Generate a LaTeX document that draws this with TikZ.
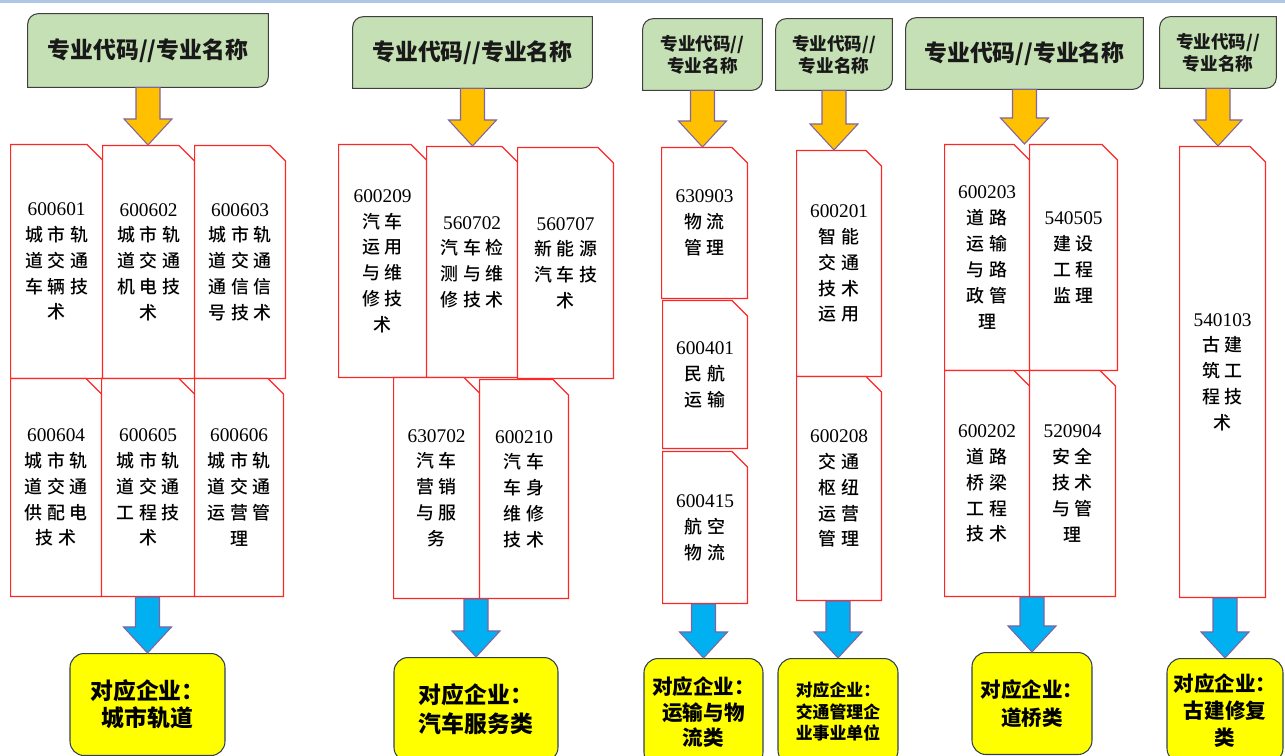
\documentclass[tikz,border=0pt]{standalone}
\usepackage{fontspec}
\usepackage{tikz}
\usepackage{xcolor}
\usetikzlibrary{shapes.misc, calc, backgrounds}

\newfontfamily\cjkhead{Noto Sans CJK SC}
\newfontfamily\cjkcode[LetterSpace=25, UprightFont={* Medium}]{Noto Sans CJK SC}
\newfontfamily\codefont{Liberation Serif}
\newcommand{\majcode}[1]{{\codefont\fontsize{11}{14.7}\selectfont #1}}

\definecolor{headfill}{HTML}{C5E0B4}
\definecolor{headedge}{HTML}{3F3F3F}
\definecolor{jobfill}{HTML}{FFFF00}
\definecolor{jobedge}{HTML}{2F3F55}
\definecolor{inarrow}{HTML}{FFC000}
\definecolor{outarrow}{HTML}{00B0F0}
\definecolor{arrowedge}{HTML}{8064A2}
\definecolor{topline}{HTML}{AFC6E4}

\begin{document}
\begin{tikzpicture}[x=0.02cm, y=-0.02cm]

    % Define style for different elements
    \tikzstyle{headbox} = [rectangle, inner sep=0pt, align=center, text=black!90, font=\cjkhead\bfseries\fontsize{13}{16}\selectfont]
    \tikzstyle{smallhead} = [font=\cjkhead\bfseries\fontsize{10}{12.5}\selectfont]
    \tikzstyle{headframe} = [draw=headedge, line width=0.6pt, fill=headfill]
    \tikzstyle{codebox} = [chamfered rectangle, chamfered rectangle corners=north east, chamfered rectangle xsep=4pt, chamfered rectangle ysep=4.8pt, draw=red!85, line width=0.7pt, fill=white, inner sep=0pt, align=center, anchor=north west, font=\cjkcode\fontsize{10.2}{14.7}\selectfont]
    \tikzstyle{jobbox} = [rectangle, rounded corners=8pt, draw=jobedge, line width=0.6pt, fill=jobfill, inner sep=0pt, align=center, anchor=north, font=\cjkhead\bfseries]
    \tikzstyle{feed} = [draw=arrowedge, line width=0.6pt, to path={($(\tikztostart)+(-12,0)$) -- ($(\tikztostart)+(12,0)$) -- ($(\tikztotarget)+(12,-26)$) -- ($(\tikztotarget)+(24,-26)$) -- (\tikztotarget) -- ($(\tikztotarget)+(-24,-26)$) -- ($(\tikztotarget)+(-12,-26)$) -- cycle}]

    \path[use as bounding box, clip] (0,0) rectangle (1285,756);
    \fill[topline] (0,0) rectangle (1285,3);

    % Place nodes
    \node (head1) [headbox, minimum width=4.8cm, minimum height=1.46cm] at (148,50.5) {专业代码//专业名称};
    \node (head2) [headbox, minimum width=4.78cm, minimum height=1.42cm] at (472.5,52.5) {专业代码//专业名称};
    \node (head3) [headbox, smallhead, minimum width=2.38cm, minimum height=1.42cm] at (702.5,54.5) {专业代码//\\专业名称};
    \node (head4) [headbox, smallhead, minimum width=2.32cm, minimum height=1.42cm] at (834,54.5) {专业代码//\\专业名称};
    \node (head5) [headbox, minimum width=4.74cm, minimum height=1.42cm] at (1024.5,53.5) {专业代码//专业名称};
    \node (head6) [headbox, smallhead, minimum width=2.32cm, minimum height=1.42cm] at (1218,52.5) {专业代码//\\专业名称};

    \node (m11) [codebox, minimum width=1.84cm, minimum height=4.68cm] at (10,144) {\majcode{600601}\\城市轨\\道交通\\车辆技\\术};
    \node (m12) [codebox, minimum width=1.84cm, minimum height=4.66cm] at (102,145) {\majcode{600602}\\城市轨\\道交通\\机电技\\术};
    \node (m13) [codebox, minimum width=1.82cm, minimum height=4.66cm] at (194,145) {\majcode{600603}\\城市轨\\道交通\\通信信\\号技术};
    \node (m14) [codebox, minimum width=1.82cm, minimum height=4.36cm] at (10,378) {\majcode{600604}\\城市轨\\道交通\\供配电\\技术};
    \node (m15) [codebox, minimum width=1.86cm, minimum height=4.36cm] at (101,378) {\majcode{600605}\\城市轨\\道交通\\工程技\\术};
    \node (m16) [codebox, minimum width=1.78cm, minimum height=4.36cm] at (194,378) {\majcode{600606}\\城市轨\\道交通\\运营管\\理};

    \node (m21) [codebox, minimum width=1.76cm, minimum height=4.66cm] at (338,144) {\majcode{600209}\\汽车\\运用\\与维\\修技\\术};
    \node (m22) [codebox, minimum width=1.82cm, minimum height=4.62cm] at (426,146) {\majcode{560702}\\汽车检\\测与维\\修技术};
    \node (m23) [codebox, minimum width=1.92cm, minimum height=4.62cm] at (517,147) {\majcode{560707}\\新能源\\汽车技\\术};
    \node (m24) [codebox, minimum width=1.72cm, minimum height=4.42cm] at (393,377) {\majcode{630702}\\汽车\\营销\\与服\\务};
    \node (m25) [codebox, minimum width=1.78cm, minimum height=4.38cm] at (479,379) {\majcode{600210}\\汽车\\车身\\维修\\技术};

    \node (m31) [codebox, minimum width=1.72cm, minimum height=3.02cm] at (661,147) {\majcode{630903}\\物流\\管理};
    \node (m32) [codebox, minimum width=1.7cm, minimum height=2.96cm] at (662,300) {\majcode{600401}\\民航\\运输};
    \node (m33) [codebox, minimum width=1.7cm, minimum height=3.04cm] at (662,451) {\majcode{600415}\\航空\\物流};

    \node (m41) [codebox, minimum width=1.7cm, minimum height=4.52cm] at (796,150) {\majcode{600201}\\智能\\交通\\技术\\运用};
    \node (m42) [codebox, minimum width=1.7cm, minimum height=4.48cm] at (796,376) {\majcode{600208}\\交通\\枢纽\\运营\\管理};

    \node (m51) [codebox, minimum width=1.7cm, minimum height=4.52cm] at (944,144) {\majcode{600203}\\道路\\运输\\与路\\政管\\理};
    \node (m52) [codebox, minimum width=1.76cm, minimum height=4.52cm] at (1029,144) {\majcode{540505}\\建设\\工程\\监理};
    \node (m53) [codebox, minimum width=1.7cm, minimum height=4.52cm] at (944,370) {\majcode{600202}\\道路\\桥梁\\工程\\技术};
    \node (m54) [codebox, minimum width=1.72cm, minimum height=4.52cm] at (1029,370) {\majcode{520904}\\安全\\技术\\与管\\理};

    \node (m61) [codebox, minimum width=1.72cm, minimum height=9.02cm] at (1179,146) {\majcode{540103}\\古建\\筑工\\程技\\术};

    \node (job1) [jobbox, minimum width=3.1cm, minimum height=2.04cm, font=\cjkhead\bfseries\fontsize{13}{15.3}\selectfont] at (147.5,653) {对应企业：\\城市轨道};
    \node (job2) [jobbox, minimum width=3.28cm, minimum height=2.08cm, font=\cjkhead\bfseries\fontsize{13}{16.4}\selectfont] at (476,657) {对应企业：\\汽车服务类};
    \node (job3) [jobbox, minimum width=2.38cm, minimum height=2.16cm, font=\cjkhead\bfseries\fontsize{11.7}{14.5}\selectfont] at (703.5,658) {对应企业：\\运输与物\\流类};
    \node (job4) [jobbox, minimum width=2.4cm, minimum height=2.12cm, font=\cjkhead\bfseries\fontsize{9.6}{12.5}\selectfont] at (838,658) {对应企业：\\交通管理企\\业事业单位};
    \node (job5) [jobbox, minimum width=2.4cm, minimum height=2.04cm, font=\cjkhead\bfseries\fontsize{11.7}{15.9}\selectfont] at (1032,652) {对应企业：\\道桥类};
    \node (job6) [jobbox, minimum width=2.32cm, minimum height=2.08cm, font=\cjkhead\bfseries\fontsize{11.7}{15.6}\selectfont] at (1225,658) {对应企业：\\古建修复\\类};

    % Frames of the heading boxes
    \begin{scope}[on background layer]
    \foreach \i in {1,...,6}
        \draw[headframe] (head\i.south west) -- ([yshift=-6pt]head\i.north west) arc[start angle=180, end angle=90, radius=6pt] -- (head\i.north east) -- ([yshift=6pt]head\i.south east) arc[start angle=0, end angle=-90, radius=6pt] -- cycle;
    \end{scope}

    % Draw arrows
    \draw [feed, fill=inarrow] (head1.south) to (head1.south |- m12.north);
    \draw [feed, fill=inarrow] (head2.south) to (head2.south |- m22.north);
    \draw [feed, fill=inarrow] (head3.south) to (head3.south |- m31.north);
    \draw [feed, fill=inarrow] (head4.south) to (head4.south |- m41.north);
    \draw [feed, fill=inarrow] (head5.south) to (head5.south |- m51.north);
    \draw [feed, fill=inarrow] (head6.south) to (head6.south |- m61.north);
    \draw [feed, fill=outarrow] (job1.north |- m15.south) to (job1.north);
    \draw [feed, fill=outarrow] (job2.north |- m24.south) to (job2.north);
    \draw [feed, fill=outarrow] (job3.north |- m33.south) to (job3.north);
    \draw [feed, fill=outarrow] (job4.north |- m42.south) to (job4.north);
    \draw [feed, fill=outarrow] (job5.north |- m53.south) to (job5.north);
    \draw [feed, fill=outarrow] (job6.north |- m61.south) to (job6.north);

\end{tikzpicture}
\end{document}
